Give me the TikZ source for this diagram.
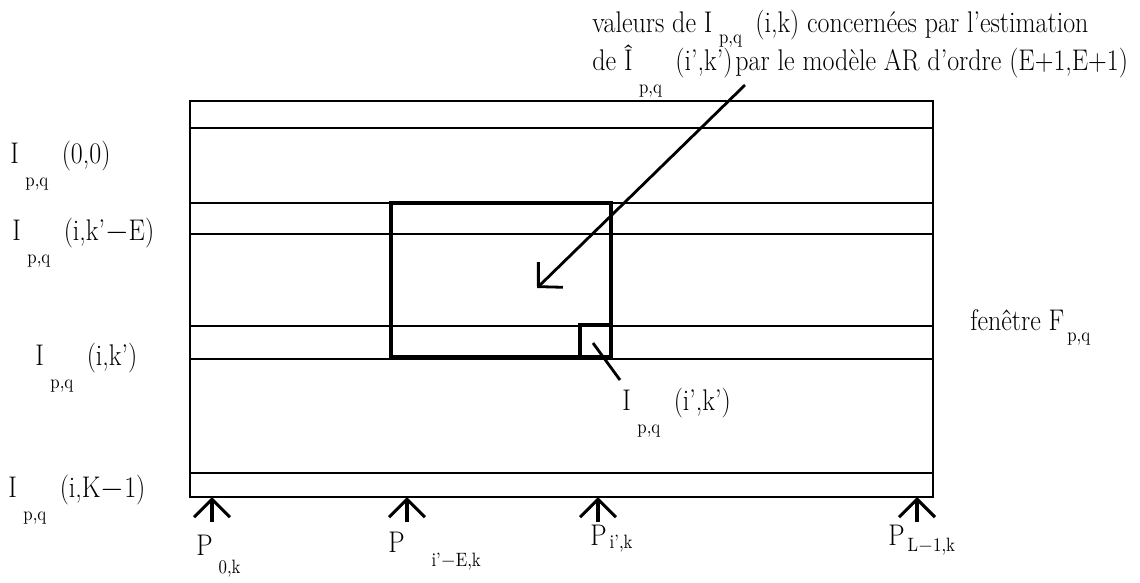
\documentclass[tikz,border=0pt]{standalone}
\usepackage{fontspec}
\setmainfont{Latin Modern Roman}[FakeStretch=0.87]
\usetikzlibrary{arrows.meta}
\newcommand{\lowsub}[2][2ex]{\raisebox{-#1}{\fontsize{11}{11}\selectfont #2}}
\newcommand{\Ipq}[3][1.8ex]{#2\hspace{0.22em}\lowsub[#1]{p,q}\hspace{0.45em}#3}
\begin{document}
\begin{tikzpicture}[x=0.02cm,y=-0.02cm,
  lbl/.style={font=\fontsize{17}{20}\selectfont,inner sep=0pt},
  barb/.style={-{Straight Barb[length=3.6mm,width=7.2mm]},line width=1.8pt},
  thinline/.style={line width=0.6pt}]
\useasboundingbox (0,0) rectangle (1140,582);
% fenetre F_{p,q} et ses lignes
\draw[line width=1.2pt] (190,101) rectangle (933,497);
\foreach \y in {128,203,234,326,359,473}
  \draw[thinline] (190,\y) -- (933,\y);
% zone du modele AR
\draw[line width=2.2pt] (391,203) rectangle (611,357);
\draw[line width=2pt] (580,325) rectangle (611,357);
% textes de gauche
\node[lbl,anchor=base west] (l00) at (10,163) {\Ipq{I}{(0,0)}};
\node[lbl,anchor=base west] (lkE) at (12,240) {\Ipq{I}{(i,k'$-$E)}};
\node[lbl,anchor=base west] (lk) at (35,365) {\Ipq{I}{(i,k')}};
\node[lbl,anchor=base west] (lK) at (8,497) {\Ipq{I}{(i,K$-$1)}};
\node[lbl,anchor=base west] (fen) at (970,330) {fenêtre F\hspace{0.1em}\lowsub[0.9ex]{p,q}};
% legende du haut
\node[lbl,anchor=base west] (note1) at (592,32)
  {valeurs de \Ipq[0.9ex]{I}{(i,k)} concernées par l'estimation};
\node[lbl,anchor=base west] (note2) at (592,70)
  {de \Ipq{\^I}{(i',k')}\hspace{0.1em}par le modèle AR d'ordre (E+1,E+1)};
\coordinate (a1) at (745,85);
\coordinate (a2) at (537,288);
\draw[line width=1.6pt,-{Straight Barb[length=3.4mm,width=7mm]}] (a1) -- (a2);
% point estime
\node[lbl,anchor=base west] (pt) at (622,410) {\Ipq{I}{(i',k')}};
\coordinate (b1) at (593,343);
\coordinate (b2) at (620,380);
\draw[line width=1.6pt] (b1) -- (b2);
% positions P
\node[lbl,anchor=base west] (P0) at (196,555) {P\hspace{0.2em}\lowsub[1.4ex]{0,k}};
\node[lbl,anchor=base west] (PE) at (388,552) {P\hspace{0.9em}\lowsub[1.1ex]{i'$-$E,k}};
\node[lbl,anchor=base west] (Pi) at (590,545) {P\hspace{0.1em}\lowsub[0.3ex]{i',k}};
\node[lbl,anchor=base west] (PL) at (888,545) {P\hspace{0.1em}\lowsub[0.5ex]{L$-$1,k}};
\foreach \n/\x in {p0/212,pE/407,pi/598,pL/917} {
  \coordinate (\n s) at (\x,522);
  \coordinate (\n e) at (\x,497);
  \draw[barb] (\n s) -- (\n e);
}
\end{tikzpicture}
\end{document}
